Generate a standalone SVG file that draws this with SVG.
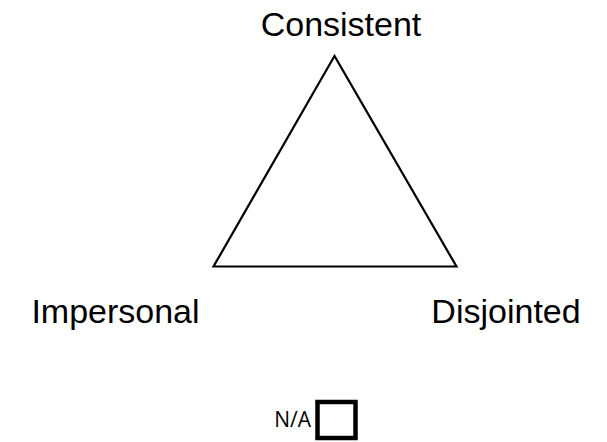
<svg xmlns="http://www.w3.org/2000/svg" width="607" height="442" viewBox="0 0 607 442">
<style>
.lbl{font-family:"Liberation Sans",Arial,sans-serif;font-size:34px;fill:#000}
.small{font-family:"Open Sans","Noto Sans",sans-serif;font-size:21px;fill:#000}
</style>
<rect width="607" height="442" fill="#fff"/>
<g id="triangle">
<polygon points="334.5,56 213.5,266.5 456.5,266.5" fill="#fff" stroke="#000" stroke-width="2.2" stroke-linejoin="miter"/>
</g>
<g id="consistent"><text class="lbl" x="341" y="36" text-anchor="middle">Consistent</text></g>
<g id="impersonal"><text class="lbl" x="115.5" y="323" text-anchor="middle">Impersonal</text></g>
<g id="disjointed"><text class="lbl" x="506" y="323" text-anchor="middle">Disjointed</text></g>
<g id="na">
<text class="small" x="311" y="427" text-anchor="end">N/A</text>
<rect x="317.5" y="402" width="38" height="36" fill="#fff" stroke="#000" stroke-width="4.5"/>
</g>
<g id="connectors"></g>
</svg>
